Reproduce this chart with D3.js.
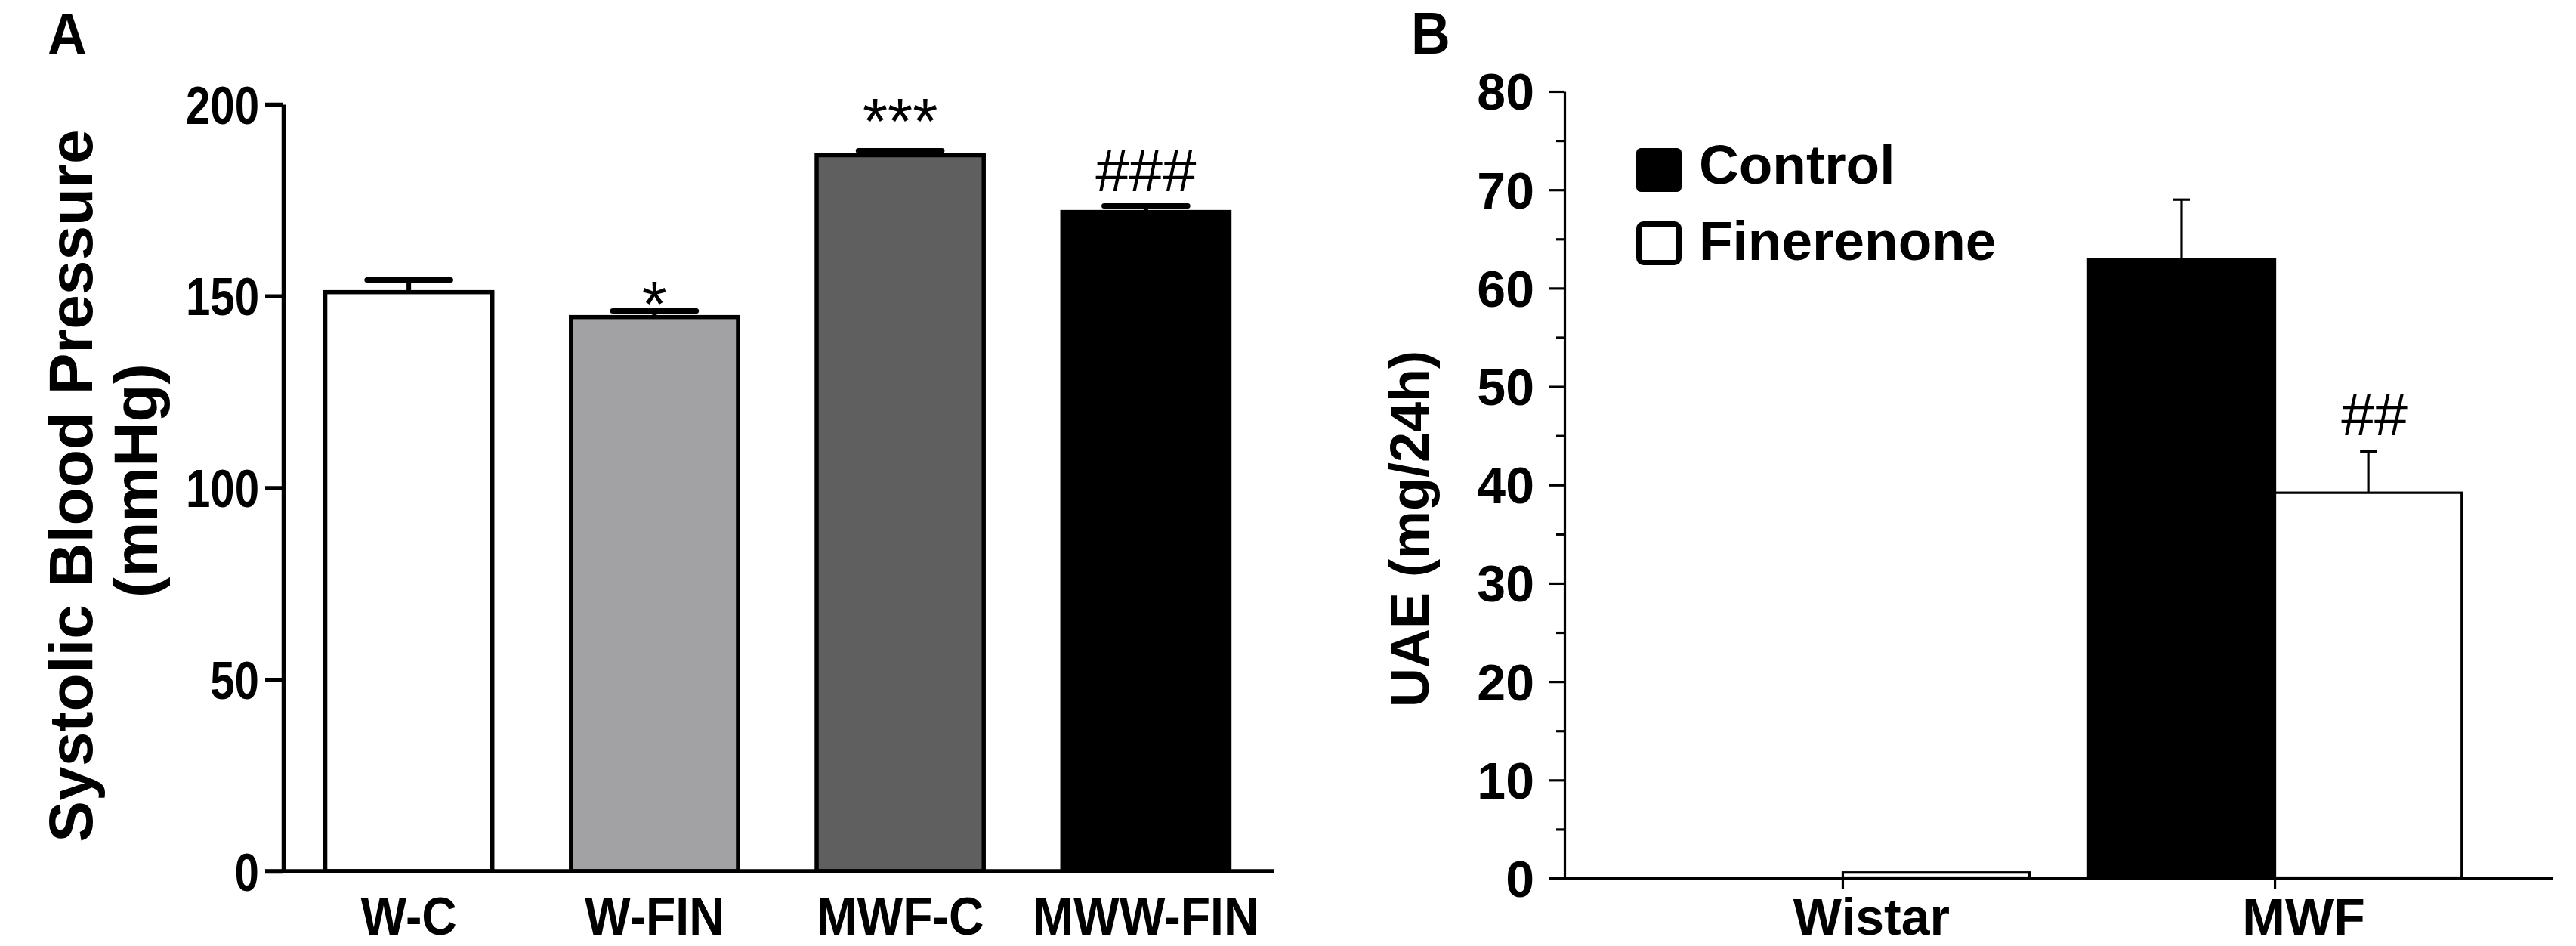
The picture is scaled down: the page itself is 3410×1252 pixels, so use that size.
<!DOCTYPE html>
<html><head><meta charset="utf-8">
<script src="https://cdn.jsdelivr.net/npm/d3@7"></script>
<style>html,body{margin:0;padding:0;background:#fff;} svg{display:block;}</style>
</head><body>
<svg id="chart" width="3410" height="1252"></svg>
<script>
// ---------- DATA ----------
const categoriesA = ["W-C", "W-FIN", "MWF-C", "MWW-FIN"];
const valuesA = [151.0, 144.5, 186.7, 171.9];
const errorsA = [3.2, 1.6, 1.2, 1.6];
const signifA = ["", "*", "***", "###"];
const ticksA = [0, 50, 100, 150, 200];
const titleA = ["Systolic Blood Pressure", "(mmHg)"];

const groupsB = ["Wistar", "MWF"];
const seriesB = ["Control", "Finerenone"];
const controlB = [0, 62.9];
const finerenoneB = [0.6, 39.2];
const controlErrB = [0, 6.1];
const finerenoneErrB = [0, 4.2];
const signifFinB = ["", "##"];
const ticksB = [0, 10, 20, 30, 40, 50, 60, 70, 80];
const minorTicksB = [5, 15, 25, 35, 45, 55, 65, 75];
const titleB = "UAE (mg/24h)";

// ---------- STYLE ----------
const FONT = "'Liberation Sans', Arial, Helvetica, sans-serif";
const colorsA = ["#ffffff", "#a2a2a4", "#5f5f5f", "#000000"];
const colorsB = ["#000000", "#ffffff"];
const sigGapA = [0, 17, 47, 19]; // gap between error cap and symbol ink

const svg = d3.select("#chart");
svg.append("rect").attr("width", 3410).attr("height", 1252).attr("fill", "#fff");

// ================= PANEL A =================
const gA = svg.append("g");
const yA = d3.scaleLinear().domain([0, 200]).range([1153, 138]);
const xA = d3.scaleBand().domain(categoriesA).range([372, 1686]).paddingInner(0.32).paddingOuter(0.18);
const swA = 5.5;

// y axis
const axA = gA.append("g").attr("transform", "translate(375,0)")
  .call(d3.axisLeft(yA).tickValues(ticksA).tickSize(24).tickSizeOuter(0).tickFormat(""));
axA.selectAll("path.domain").attr("stroke", "#000").attr("stroke-width", swA);
axA.selectAll(".tick line").attr("stroke", "#000").attr("stroke-width", swA);

gA.selectAll("text.ytA").data(ticksA).join("text")
  .attr("class", "ytA")
  .attr("transform", d => `translate(343,${yA(d)}) scale(0.82,1)`)
  .attr("text-anchor", "end").attr("dy", "0.36em")
  .attr("font-family", FONT).attr("font-size", 71).attr("font-weight", "bold")
  .text(d => d);

// bars
const dataA = categoriesA.map((c, i) => ({c, v: valuesA[i], e: errorsA[i], col: colorsA[i], s: signifA[i], gap: sigGapA[i]}));

gA.selectAll("line.errA").data(dataA).join("line")
  .attr("x1", d => xA(d.c) + xA.bandwidth() / 2).attr("x2", d => xA(d.c) + xA.bandwidth() / 2)
  .attr("y1", d => yA(d.v)).attr("y2", d => yA(d.v + d.e))
  .attr("stroke", "#000").attr("stroke-width", 6);
gA.selectAll("line.capA").data(dataA).join("line")
  .attr("x1", d => xA(d.c) + xA.bandwidth() * 0.25).attr("x2", d => xA(d.c) + xA.bandwidth() * 0.75)
  .attr("y1", d => yA(d.v + d.e)).attr("y2", d => yA(d.v + d.e))
  .attr("stroke", "#000").attr("stroke-width", 7).attr("stroke-linecap", "round");

gA.selectAll("rect.barA").data(dataA).join("rect")
  .attr("x", d => xA(d.c)).attr("y", d => yA(d.v))
  .attr("width", xA.bandwidth()).attr("height", d => yA(0) - yA(d.v))
  .attr("fill", d => d.col).attr("stroke", "#000").attr("stroke-width", swA);

// x axis line
gA.append("line").attr("x1", 351).attr("x2", 1686).attr("y1", yA(0)).attr("y2", yA(0))
  .attr("stroke", "#000").attr("stroke-width", swA);

// x labels
gA.selectAll("text.xlA").data(categoriesA).join("text")
  .attr("transform", d => `translate(${xA(d) + xA.bandwidth() / 2},1237) scale(0.92,1)`)
  .attr("text-anchor", "middle")
  .attr("font-family", FONT).attr("font-size", 70).attr("font-weight", "bold")
  .text(d => d);

// significance
gA.selectAll("text.sigA").data(dataA.filter(d => d.s)).join("text")
  .attr("x", d => xA(d.c) + xA.bandwidth() / 2)
  .attr("y", d => {
    const capY = yA(d.v + d.e);
    return d.s.startsWith("*") ? capY - d.gap + 0.44 * 85 : capY - d.gap;
  })
  .attr("text-anchor", "middle")
  .attr("font-family", FONT).attr("font-size", d => d.s.startsWith("*") ? 85 : 80)
  .text(d => d.s);

// y title
gA.append("text").attr("transform", "translate(122,643) rotate(-90)")
  .attr("text-anchor", "middle").attr("font-family", FONT).attr("font-size", 82).attr("font-weight", "bold")
  .text(titleA[0]);
gA.append("text").attr("transform", "translate(208,636) rotate(-90)")
  .attr("text-anchor", "middle").attr("font-family", FONT).attr("font-size", 82).attr("font-weight", "bold")
  .text(titleA[1]);

// panel label
svg.append("text").attr("transform", "translate(63,72) scale(0.92,1)")
  .attr("font-family", FONT).attr("font-size", 78).attr("font-weight", "bold").text("A");

// ================= PANEL B =================
const gB = svg.append("g");
const yB = d3.scaleLinear().domain([0, 80]).range([1162.5, 121]);
const x0 = d3.scaleBand().domain(groupsB).range([2071, 3380]).paddingInner(0.136).paddingOuter(0.212);
const x1 = d3.scaleBand().domain(seriesB).range([0, x0.bandwidth()]).padding(0);
const swB = 3.2;

const axB = gB.append("g").attr("transform", "translate(2071,0)")
  .call(d3.axisLeft(yB).tickValues(ticksB).tickSize(20).tickSizeOuter(0).tickFormat(""));
axB.selectAll("path.domain").attr("stroke", "#000").attr("stroke-width", swB);
axB.selectAll(".tick line").attr("stroke", "#000").attr("stroke-width", swB);
const axBm = gB.append("g").attr("transform", "translate(2071,0)")
  .call(d3.axisLeft(yB).tickValues(minorTicksB).tickSize(11).tickSizeOuter(0).tickFormat(""));
axBm.selectAll("path.domain").remove();
axBm.selectAll(".tick line").attr("stroke", "#000").attr("stroke-width", swB);

gB.selectAll("text.ytB").data(ticksB).join("text")
  .attr("x", 2031).attr("y", d => yB(d)).attr("dy", "0.36em")
  .attr("text-anchor", "end")
  .attr("font-family", FONT).attr("font-size", 68).attr("font-weight", "bold")
  .text(d => d);

const dataB = [];
groupsB.forEach((g, i) => {
  dataB.push({g, s: seriesB[0], v: controlB[i], e: controlErrB[i], col: colorsB[0], sig: ""});
  dataB.push({g, s: seriesB[1], v: finerenoneB[i], e: finerenoneErrB[i], col: colorsB[1], sig: signifFinB[i]});
});
const cxB = d => x0(d.g) + x1(d.s) + x1.bandwidth() / 2;

gB.selectAll("line.errB").data(dataB.filter(d => d.e > 0)).join("line")
  .attr("x1", cxB).attr("x2", cxB)
  .attr("y1", d => yB(d.v)).attr("y2", d => yB(d.v + d.e))
  .attr("stroke", "#000").attr("stroke-width", swB);
gB.selectAll("line.capB").data(dataB.filter(d => d.e > 0)).join("line")
  .attr("x1", d => cxB(d) - 11).attr("x2", d => cxB(d) + 11)
  .attr("y1", d => yB(d.v + d.e)).attr("y2", d => yB(d.v + d.e))
  .attr("stroke", "#000").attr("stroke-width", swB);

gB.selectAll("rect.barB").data(dataB).join("rect")
  .attr("x", d => x0(d.g) + x1(d.s)).attr("y", d => yB(d.v))
  .attr("width", x1.bandwidth()).attr("height", d => yB(0) - yB(d.v))
  .attr("fill", d => d.col).attr("stroke", "#000").attr("stroke-width", swB);

// x axis
gB.append("line").attr("x1", 2051).attr("x2", 3380).attr("y1", yB(0)).attr("y2", yB(0))
  .attr("stroke", "#000").attr("stroke-width", swB);
gB.selectAll("line.xtB").data(groupsB).join("line")
  .attr("x1", d => x0(d) + x0.bandwidth() / 2).attr("x2", d => x0(d) + x0.bandwidth() / 2)
  .attr("y1", yB(0)).attr("y2", yB(0) + 14)
  .attr("stroke", "#000").attr("stroke-width", swB);
gB.selectAll("text.xlB").data(groupsB).join("text")
  .attr("x", d => x0(d) + x0.bandwidth() / 2 + 38).attr("y", 1237)
  .attr("text-anchor", "middle")
  .attr("font-family", FONT).attr("font-size", 68).attr("font-weight", "bold")
  .text(d => d);

// significance
gB.selectAll("text.sigB").data(dataB.filter(d => d.sig)).join("text")
  .attr("x", d => cxB(d) + 8).attr("y", d => yB(d.v + d.e) - 21)
  .attr("text-anchor", "middle")
  .attr("font-family", FONT).attr("font-size", 79)
  .text(d => d.sig);

// legend
const legB = gB.append("g");
seriesB.forEach((s, i) => {
  const y0 = 196 + i * 97;
  legB.append("rect")
    .attr("x", i ? 2169.5 : 2166).attr("y", i ? y0 + 3.5 : y0)
    .attr("width", i ? 53 : 60).attr("height", i ? 51 : 58).attr("rx", 6)
    .attr("fill", colorsB[i]).attr("stroke", i ? "#000" : "none").attr("stroke-width", 7);
  legB.append("text").attr("x", 2249).attr("y", y0 + 47 + i * 4)
    .attr("font-family", FONT).attr("font-size", 73).attr("font-weight", "bold")
    .text(s);
});

// y title
gB.append("text").attr("transform", "translate(1891,700) rotate(-90)")
  .attr("text-anchor", "middle").attr("font-family", FONT).attr("font-size", 72).attr("font-weight", "bold")
  .text(titleB);

svg.append("text").attr("transform", "translate(1868,71) scale(0.92,1)")
  .attr("font-family", FONT).attr("font-size", 78).attr("font-weight", "bold").text("B");
</script>
</body></html>
